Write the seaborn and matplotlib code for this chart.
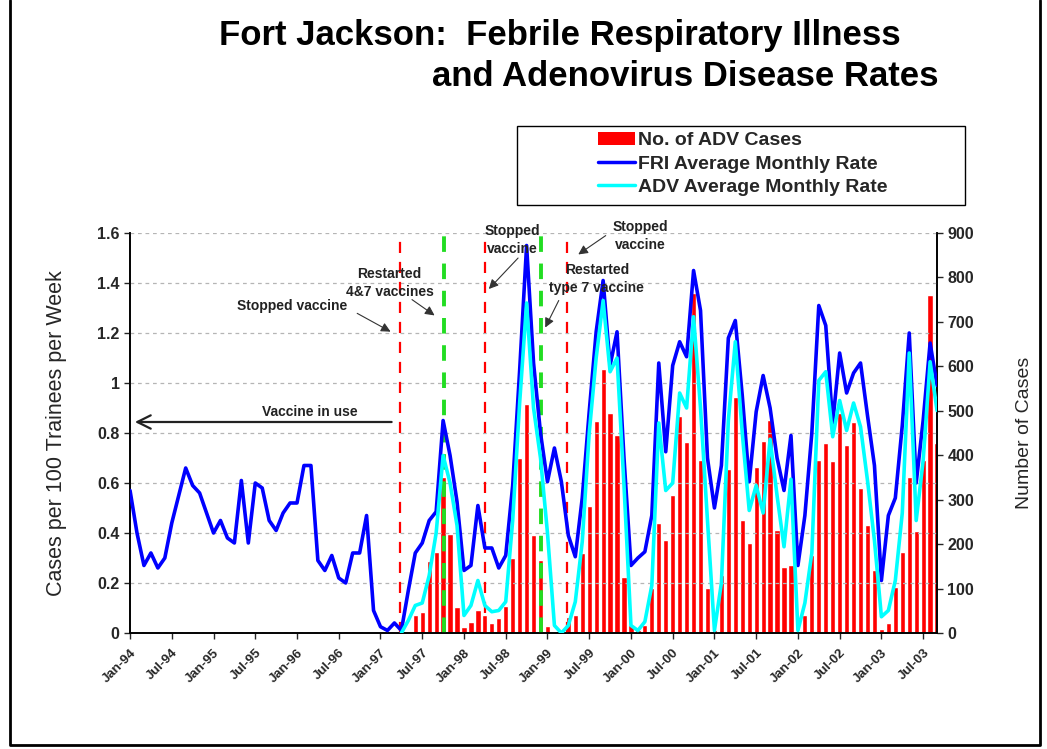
import numpy as np
import matplotlib
matplotlib.use('Agg')
import matplotlib.pyplot as plt
import seaborn as sns
from matplotlib.patches import Patch, Rectangle
from matplotlib.lines import Line2D

# FRI average monthly rate, one value per month from Jan-94
fri_rate = [0.57, 0.40, 0.27, 0.32, 0.26, 0.30, 0.44, 0.55, 0.66, 0.59,
            0.56, 0.48, 0.40, 0.45, 0.38, 0.36, 0.61, 0.36, 0.60, 0.58,
            0.45, 0.41, 0.48, 0.52, 0.52, 0.67, 0.67, 0.29, 0.25, 0.31,
            0.22, 0.20, 0.32, 0.32, 0.47, 0.09, 0.025, 0.01, 0.04, 0.01,
            0.17, 0.32, 0.36, 0.45, 0.485, 0.85, 0.71, 0.525, 0.25, 0.27,
            0.51, 0.34, 0.34, 0.26, 0.31, 0.59, 1.05, 1.55, 1.08, 0.80,
            0.605, 0.74, 0.605, 0.39, 0.305, 0.54, 0.885, 1.205, 1.41, 1.07,
            1.205, 0.70, 0.27, 0.30, 0.325, 0.47, 1.08, 0.725, 1.07, 1.165,
            1.105, 1.45, 1.29, 0.70, 0.50, 0.67, 1.18, 1.25, 0.95, 0.605,
            0.885, 1.03, 0.90, 0.70, 0.57, 0.79, 0.27, 0.47, 0.80, 1.31,
            1.23, 0.84, 1.12, 0.96, 1.04, 1.08, 0.87, 0.67, 0.21, 0.47,
            0.54, 0.83, 1.20, 0.60, 0.85, 1.16, 0.99]

# ADV data only starts after vaccine was stopped (month 39 = Apr-97)
adv_start = 39
adv_rate = [0.0, 0.05, 0.11, 0.12, 0.23, 0.40, 0.71, 0.60, 0.43, 0.07,
            0.11, 0.21, 0.11, 0.085, 0.09, 0.125, 0.45, 0.92, 1.32, 0.90,
            0.70, 0.40, 0.03, 0.0, 0.03, 0.125, 0.365, 0.80, 1.10, 1.33,
            1.045, 1.10, 0.59, 0.03, 0.01, 0.045, 0.19, 0.84, 0.57, 0.60,
            0.96, 0.90, 1.265, 0.90, 0.45, 0.01, 0.20, 0.85, 1.165, 0.80,
            0.49, 0.59, 0.48, 0.775, 0.55, 0.345, 0.615, 0.01, 0.12, 0.32,
            1.01, 1.045, 0.785, 0.93, 0.81, 0.92, 0.825, 0.61, 0.37, 0.065,
            0.09, 0.21, 0.48, 1.12, 0.45, 0.69, 1.085, 0.89]
adv_cases = [0, 0, 40, 48, 162, 183, 350, 222, 59, 14,
             25, 52, 40, 22, 33, 60, 168, 393, 515, 220,
             164, 16, 0, 0, 37, 40, 180, 285, 478, 595,
             494, 445, 127, 18, 7, 18, 102, 247, 210, 311,
             489, 430, 765, 390, 102, 7, 130, 370, 532, 254,
             202, 374, 432, 480, 232, 148, 153, 0, 40, 176,
             389, 427, 386, 495, 423, 474, 326, 243, 142, 10,
             22, 104, 183, 352, 230, 389, 761, 427]

tick_labels = ['Jan-94', 'Jul-94', 'Jan-95', 'Jul-95', 'Jan-96', 'Jul-96',
               'Jan-97', 'Jul-97', 'Jan-98', 'Jul-98', 'Jan-99', 'Jul-99',
               'Jan-00', 'Jul-00', 'Jan-01', 'Jul-01', 'Jan-02', 'Jul-02',
               'Jan-03', 'Jul-03']

# vaccine events (month index)
stopped_months = [38.8, 51.0, 62.8]
restarted_months = [45.2, 59.1]

months = np.arange(len(fri_rate))
adv_months = np.arange(adv_start, adv_start + len(adv_rate))

sns.set_style('white')
plt.rcParams['font.family'] = ['Liberation Sans', 'DejaVu Sans']

fig = plt.figure(figsize=(10.47, 7.49), dpi=100)
ax = fig.add_axes([0.1242, 0.1549, 0.7708, 0.534])
ax2 = ax.twinx()
ax.set_zorder(ax2.get_zorder() + 1)
ax.patch.set_visible(False)

# bars on the right axis (number of cases)
sns.barplot(x=adv_months, y=adv_cases, native_scale=True, width=0.75,
            color='#ff0000', saturation=1, errorbar=None, ax=ax2)

# vertical event lines
for m in stopped_months:
    ax.axvline(m, color='#ff0000', lw=1.6, ls=(0, (5, 4)), zorder=2)
for m in restarted_months:
    ax.axvline(m, color='#22dd22', lw=2.8, ls=(0, (4, 3)), zorder=2)

sns.lineplot(x=months, y=fri_rate, ax=ax, color='#0000ff', lw=2.6, zorder=3)
sns.lineplot(x=adv_months, y=adv_rate, ax=ax, color='#00ffff', lw=2.6, zorder=4)

ax.set_xlim(0, len(fri_rate) - 1)
ax.set_ylim(0, 1.6)
ax2.set_ylim(0, 900)

ax.set_xticks(np.arange(0, len(tick_labels) * 6, 6))
ax.set_xticklabels(tick_labels, rotation=45, ha='right', rotation_mode='anchor',
                   fontsize=9.5, fontweight='bold')
ax.set_yticks(np.arange(0, 1.61, 0.2))
ax.set_yticklabels(['0', '0.2', '0.4', '0.6', '0.8', '1', '1.2', '1.4', '1.6'],
                   fontsize=11.5, fontweight='bold')
ax2.set_yticks(np.arange(0, 901, 100))
ax2.set_yticklabels([str(v) for v in range(0, 901, 100)], fontsize=11.5, fontweight='bold')

ax.tick_params(axis='x', direction='out', length=4, width=1, bottom=True, pad=6)
ax.tick_params(axis='y', direction='out', length=4, width=1, left=True)
ax2.tick_params(axis='y', direction='out', length=4, width=1, right=True)

ax.yaxis.grid(True, ls=(0, (3, 3)), color='#b5b5b5', lw=0.9)
ax.xaxis.grid(False)
ax.set_axisbelow(True)

for a in (ax, ax2):
    a.spines['top'].set_visible(False)
    for s in ('left', 'right', 'bottom'):
        a.spines[s].set_color('black')
        a.spines[s].set_linewidth(1.2)

ax.set_ylabel('Cases per 100 Trainees per Week', fontsize=15.5, labelpad=22)
ax2.set_ylabel('Number of Cases', fontsize=14, labelpad=30)
ax.set_xlabel('')

# annotations
txt = dict(fontsize=10, fontweight='bold', color='#222222', ha='center', va='center',
           linespacing=1.3)
arr = dict(arrowstyle='-|>', color='#333333', lw=0.8, mutation_scale=14)
ax.text(23.3, 1.31, 'Stopped vaccine', **txt)
ax.annotate('', xy=(37.8, 1.20), xytext=(32.3, 1.284), arrowprops=arr, annotation_clip=False)
ax.text(37.3, 1.40, 'Restarted\n4&7 vaccines', **txt)
ax.annotate('', xy=(44.1, 1.264), xytext=(40.2, 1.34), arrowprops=arr, annotation_clip=False)
ax.text(55.0, 1.572, 'Stopped\nvaccine', **txt)
ax.annotate('', xy=(51.3, 1.368), xytext=(56.05, 1.508), arrowprops=arr, annotation_clip=False)
ax.text(73.3, 1.588, 'Stopped\nvaccine', **txt)
ax.annotate('', xy=(64.1, 1.508), xytext=(68.7, 1.596), arrowprops=arr, annotation_clip=False)
ax.text(67.1, 1.416, 'Restarted\ntype 7 vaccine', **txt)
ax.annotate('', xy=(59.5, 1.212), xytext=(61.8, 1.34), arrowprops=arr, annotation_clip=False)
ax.text(25.8, 0.884, 'Vaccine in use', **txt)
ax.annotate('', xy=(0.3, 0.844), xytext=(38.0, 0.844),
            arrowprops=dict(arrowstyle='->', color='#222222', lw=1.6, mutation_scale=24),
            annotation_clip=False)

# title
fig.text(560 / 1047, 1 - 36 / 749, 'Fort Jackson:  Febrile Respiratory Illness',
         fontsize=25, fontweight='bold', ha='center', va='center', color='black')
fig.text(685 / 1047, 1 - 77 / 749, 'and Adenovirus Disease Rates',
         fontsize=25, fontweight='bold', ha='center', va='center', color='black')

# legend
handles = [Patch(facecolor='#ff0000', edgecolor='none'),
           Line2D([], [], color='#0000ff', lw=2.5),
           Line2D([], [], color='#00ffff', lw=2.5)]
labels = ['No. of ADV Cases', 'FRI Average Monthly Rate', 'ADV Average Monthly Rate']
fig.legend(handles, labels, loc='center', bbox_to_anchor=(743 / 1047, 1 - 164 / 749),
           frameon=False, prop={'weight': 'bold', 'size': 14}, handlelength=1.9,
           handleheight=0.7, labelspacing=0.3, handletextpad=0.15)
fig.add_artist(Rectangle((517 / 1047, 1 - 205 / 749), 448 / 1047, 79 / 749,
                         transform=fig.transFigure, fill=False, ec='black', lw=1))

# outer frame (left, bottom, right)
fx0, fx1, fy0, fy1 = 10 / 1047, 1040 / 1047, 4 / 749, 1.0
fig.add_artist(Line2D([fx0, fx0, fx1, fx1], [fy1, fy0, fy0, fy1],
                      transform=fig.transFigure, color='black', lw=2))

fig.savefig('out.png', dpi=100)
